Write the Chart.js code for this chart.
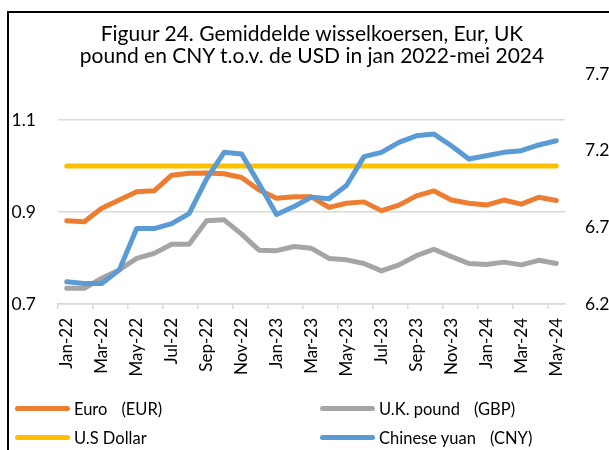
<!DOCTYPE html>
<html>
<head>
<meta charset="utf-8">
<script src="https://cdn.jsdelivr.net/npm/chart.js@4.4.1/dist/chart.umd.min.js"></script>
<style>
html, body { margin: 0; padding: 0; background: #fff; overflow: hidden; }
body { width: 609px; height: 450px; position: relative; font-family: Lato, "Noto Sans", sans-serif; color: #000; }
.frame { position: absolute; left: 7px; top: 11px; width: 700px; height: 500px; border-left: 2px solid #000; border-top: 2px solid #000; }
.chart-box { position: absolute; left: 0; top: 0; width: 625px; height: 400px; }
.title { position: absolute; left: 42px; width: 540px; top: 22px; text-align: center; font-size: 21px; line-height: 21.5px; }
.legend-item { position: absolute; height: 20px; font-size: 16.5px; line-height: 20px; white-space: nowrap; }
.legend-item .swatch { position: absolute; left: 0; top: 7px; width: 55px; height: 5px; border-radius: 3px; }
.legend-item .txt { position: absolute; left: 59px; top: 0; }
.legend-item .code { margin-left: 14px; }
</style>
</head>
<body>
<div class="frame"></div>
<div class="chart-box"><canvas id="fxChart"></canvas></div>
<div class="title">Figuur 24. Gemiddelde wisselkoersen, Eur, UK<br>pound en CNY t.o.v. de USD in jan 2022-mei 2024</div>
<div id="legend"></div>
<script>
// Data
const months = ['Jan-22','Feb-22','Mar-22','Apr-22','May-22','Jun-22','Jul-22','Aug-22','Sep-22','Oct-22','Nov-22','Dec-22',
  'Jan-23','Feb-23','Mar-23','Apr-23','May-23','Jun-23','Jul-23','Aug-23','Sep-23','Oct-23','Nov-23','Dec-23',
  'Jan-24','Feb-24','Mar-24','Apr-24','May-24'];

const eur = [0.881,0.879,0.908,0.926,0.944,0.946,0.980,0.984,0.985,0.983,0.975,0.948,
  0.930,0.933,0.933,0.910,0.919,0.922,0.903,0.915,0.935,0.946,0.926,0.919,
  0.915,0.926,0.917,0.932,0.925];
const gbp = [0.734,0.734,0.756,0.774,0.799,0.810,0.830,0.830,0.881,0.883,0.852,0.817,
  0.816,0.825,0.821,0.799,0.796,0.788,0.772,0.785,0.805,0.819,0.803,0.788,
  0.786,0.791,0.785,0.795,0.788];
const usd = [1,1,1,1,1,1,1,1,1,1,1,1,1,1,1,1,1,1,1,1,1,1,1,1,1,1,1,1,1];
const cny = [6.345,6.334,6.334,6.421,6.692,6.692,6.724,6.789,7.016,7.189,7.179,6.984,
  6.784,6.836,6.897,6.886,6.973,7.161,7.189,7.254,7.297,7.308,7.232,7.146,
  7.167,7.189,7.200,7.237,7.265];

const leftTicks = [0.7, 0.9, 1.1];
const rightTicks = [6.2, 6.7, 7.2, 7.7];

const tickFont = { family: 'Lato', size: 17.5 };

const datasets = [
  { label: 'Euro', code: '(EUR)', data: eur, borderColor: '#ED7D31', yAxisID: 'y', order: 4 },
  { label: 'U.K. pound', code: '(GBP)', data: gbp, borderColor: '#A5A5A5', yAxisID: 'y', order: 3 },
  { label: 'U.S Dollar', code: '', data: usd, borderColor: '#FFC000', yAxisID: 'y', order: 2 },
  { label: 'Chinese yuan', code: '(CNY)', data: cny, borderColor: '#5B9BD5', yAxisID: 'y1', order: 1 }
];
datasets.forEach(ds => {
  ds.borderWidth = 5;
  ds.pointRadius = 0;
  ds.tension = 0;
  ds.fill = false;
  ds.borderCapStyle = 'round';
  ds.borderJoinStyle = 'round';
});

const chart = new Chart(document.getElementById('fxChart'), {
  type: 'line',
  data: { labels: months, datasets: datasets },
  options: {
    responsive: true,
    maintainAspectRatio: false,
    animation: false,
    layout: { padding: { top: 74, left: 0, right: 0, bottom: 0 } },
    plugins: {
      legend: { display: false },
      title: { display: false },
      tooltip: { enabled: false }
    },
    scales: {
      x: {
        offset: true,
        grid: {
          offset: true,
          drawOnChartArea: false,
          tickLength: 5,
          lineWidth: 1.5,
          color: ctx => (ctx.index % 2 === 0 ? '#d9d9d9' : 'rgba(0,0,0,0)')
        },
        border: { color: '#d9d9d9', width: 1.5 },
        ticks: {
          autoSkip: false,
          minRotation: 90,
          maxRotation: 90,
          padding: 9,
          color: '#000',
          font: { family: 'Lato', size: 17 },
          callback: function(val, i) { return i % 2 === 0 ? months[i] : ''; }
        },
        afterFit: scale => { scale.height = 96; }
      },
      y: {
        position: 'left',
        min: 0.7,
        max: 1.2,
        border: { display: false },
        grid: { color: '#d9d9d9', lineWidth: 1.5, drawTicks: false },
        ticks: { padding: 22, color: '#000', font: tickFont, callback: v => v.toFixed(1) },
        afterBuildTicks: scale => { scale.ticks = leftTicks.map(v => ({ value: v })); },
        afterFit: scale => { scale.width = 58; }
      },
      y1: {
        position: 'right',
        min: 6.2,
        max: 7.7,
        border: { display: false },
        grid: { display: false, drawTicks: false },
        ticks: { padding: 20, color: '#000', font: tickFont, callback: v => v.toFixed(1) },
        afterBuildTicks: scale => { scale.ticks = rightTicks.map(v => ({ value: v })); },
        afterFit: scale => { scale.width = 60; }
      }
    }
  }
});

// Legend (two columns, like the original)
const legendPos = [
  { left: 15, top: 399 },
  { left: 320, top: 399 },
  { left: 15, top: 428 },
  { left: 320, top: 428 }
];
const legend = document.getElementById('legend');
datasets.forEach((ds, i) => {
  const item = document.createElement('div');
  item.className = 'legend-item';
  item.style.left = legendPos[i].left + 'px';
  item.style.top = legendPos[i].top + 'px';
  item.innerHTML = '<span class="swatch" style="background:' + ds.borderColor + '"></span>' +
    '<span class="txt">' + ds.label + (ds.code ? '<span class="code">' + ds.code + '</span>' : '') + '</span>';
  legend.appendChild(item);
});
</script>
</body>
</html>
